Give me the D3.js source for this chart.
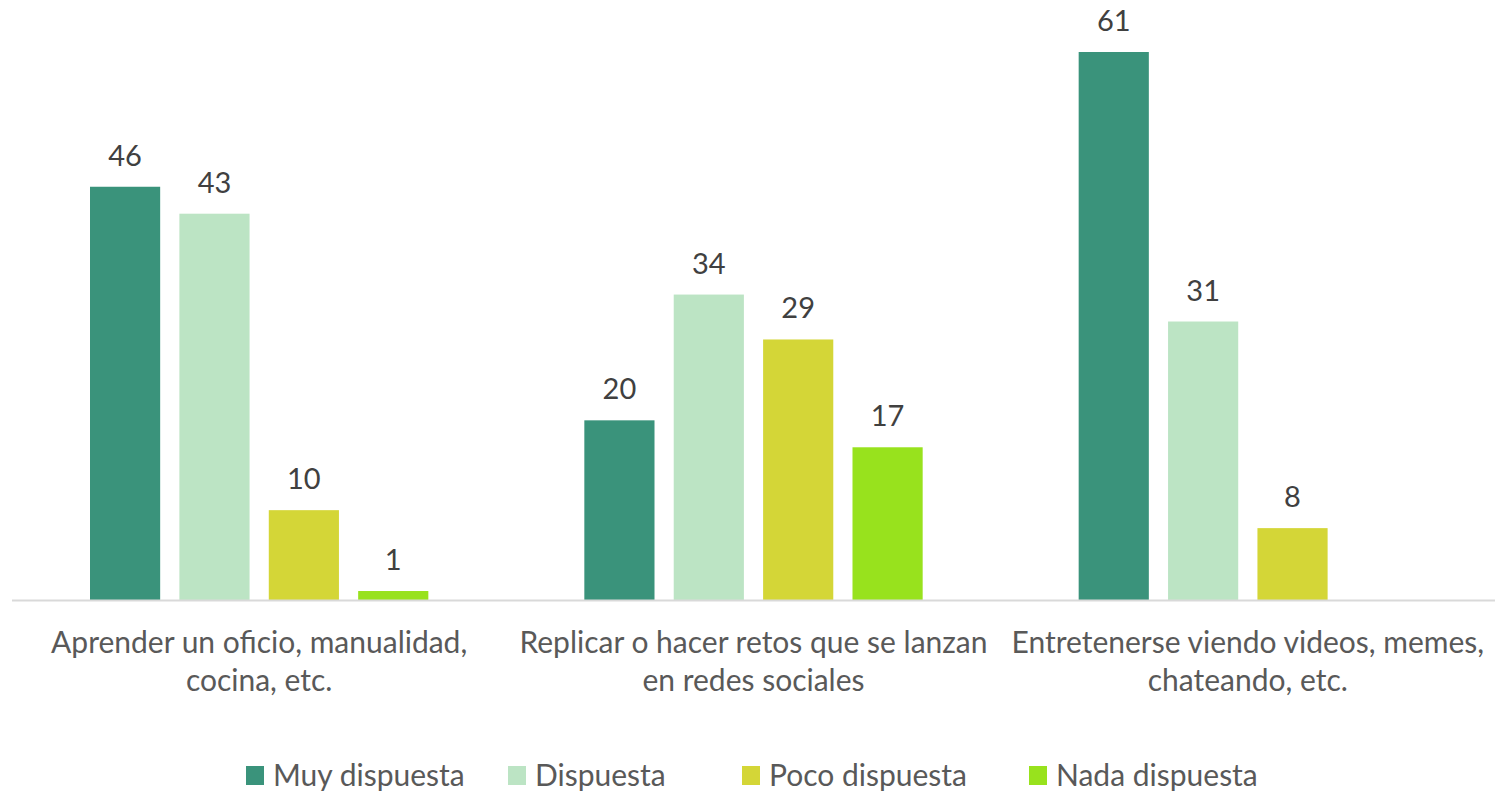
<!DOCTYPE html>
<html>
<head>
<meta charset="utf-8">
<script src="https://cdn.jsdelivr.net/npm/d3@7"></script>
<style>
  body { margin: 0; background: #fff; }
  text { font-family: Lato, "Open Sans", sans-serif; }
</style>
</head>
<body>
<div id="chart"></div>
<script>
// Chart data
var categories = [
    ["Aprender un oficio, manualidad,", "cocina, etc."],
    ["Replicar o hacer retos que se lanzan", "en redes sociales"],
    ["Entretenerse viendo videos, memes,", "chateando, etc."]
];
var seriesNames = ["Muy dispuesta", "Dispuesta", "Poco dispuesta", "Nada dispuesta"];
var muyDispuesta = [46, 20, 61];
var dispuesta = [43, 34, 31];
var pocoDispuesta = [10, 29, 8];
var nadaDispuesta = [1, 17, 0];
var colors = ["#3a937b", "#bce4c4", "#d4d637", "#98e21d"];

var seriesValues = [muyDispuesta, dispuesta, pocoDispuesta, nadaDispuesta];

var svgWidth = 1495;
var svgHeight = 792;

var margin = { left: 12, right: 0, top: 52, bottom: 192 };
var width = svgWidth - margin.left - margin.right;
var height = svgHeight - margin.top - margin.bottom;

var svg = d3.select("#chart")
    .append("svg")
    .attr("width", svgWidth)
    .attr("height", svgHeight);

var chartGroup = svg.append("g")
    .attr("transform", `translate(${margin.left}, ${margin.top})`);

// Scales
var x0 = d3.scaleBand()
    .domain(d3.range(categories.length))
    .range([0, width])
    .paddingInner(0)
    .paddingOuter(0);

var x1 = d3.scaleBand()
    .domain(d3.range(seriesNames.length))
    .range([78, x0.bandwidth() - 78])
    .paddingInner(0.215);

var y = d3.scaleLinear()
    .domain([0, 61])
    .range([height, 0]);

// Bars
var groups = chartGroup.selectAll(".group")
    .data(categories)
    .enter()
    .append("g")
    .attr("transform", (d, i) => `translate(${x0(i)}, 0)`);

groups.each(function(c, ci) {
    var g = d3.select(this);
    var vals = seriesValues.map((s, si) => ({ si: si, v: s[ci] }));

    g.selectAll("rect")
        .data(vals.filter(d => d.v > 0))
        .enter()
        .append("rect")
        .attr("x", d => x1(d.si))
        .attr("y", d => y(d.v))
        .attr("width", x1.bandwidth())
        .attr("height", d => height - y(d.v))
        .attr("fill", d => colors[d.si]);

    g.selectAll(".val")
        .data(vals.filter(d => d.v > 0))
        .enter()
        .append("text")
        .attr("class", "val")
        .attr("x", d => x1(d.si) + x1.bandwidth() / 2)
        .attr("y", d => y(d.v) - 21)
        .attr("text-anchor", "middle")
        .style("font-size", "29px")
        .style("fill", "#404040")
        .text(d => d.v);
});

// X axis line
chartGroup.append("line")
    .attr("x1", 0)
    .attr("x2", width)
    .attr("y1", height + 0.5)
    .attr("y2", height + 0.5)
    .attr("stroke", "#d9d9d9")
    .attr("stroke-width", 2);

// Category labels
var catLabels = chartGroup.selectAll(".cat")
    .data(categories)
    .enter()
    .append("text")
    .attr("class", "cat")
    .attr("text-anchor", "middle")
    .style("font-size", "30px")
    .style("fill", "#595959");

catLabels.each(function(lines, i) {
    var t = d3.select(this);
    lines.forEach(function(line, li) {
        t.append("tspan")
            .attr("x", x0(i) + x0.bandwidth() / 2)
            .attr("y", height + 53 + li * 38)
            .text(line);
    });
});

// Legend
var legendX = [246, 508, 742, 1029];
var legend = svg.selectAll(".legend")
    .data(seriesNames)
    .enter()
    .append("g")
    .attr("class", "legend")
    .attr("transform", (d, i) => `translate(${legendX[i]}, 766)`);

legend.append("rect")
    .attr("width", 18)
    .attr("height", 19)
    .attr("fill", (d, i) => colors[i]);

legend.append("text")
    .attr("x", 27)
    .attr("y", 20)
    .style("font-size", "30px")
    .style("fill", "#595959")
    .text(d => d);
</script>
</body>
</html>
